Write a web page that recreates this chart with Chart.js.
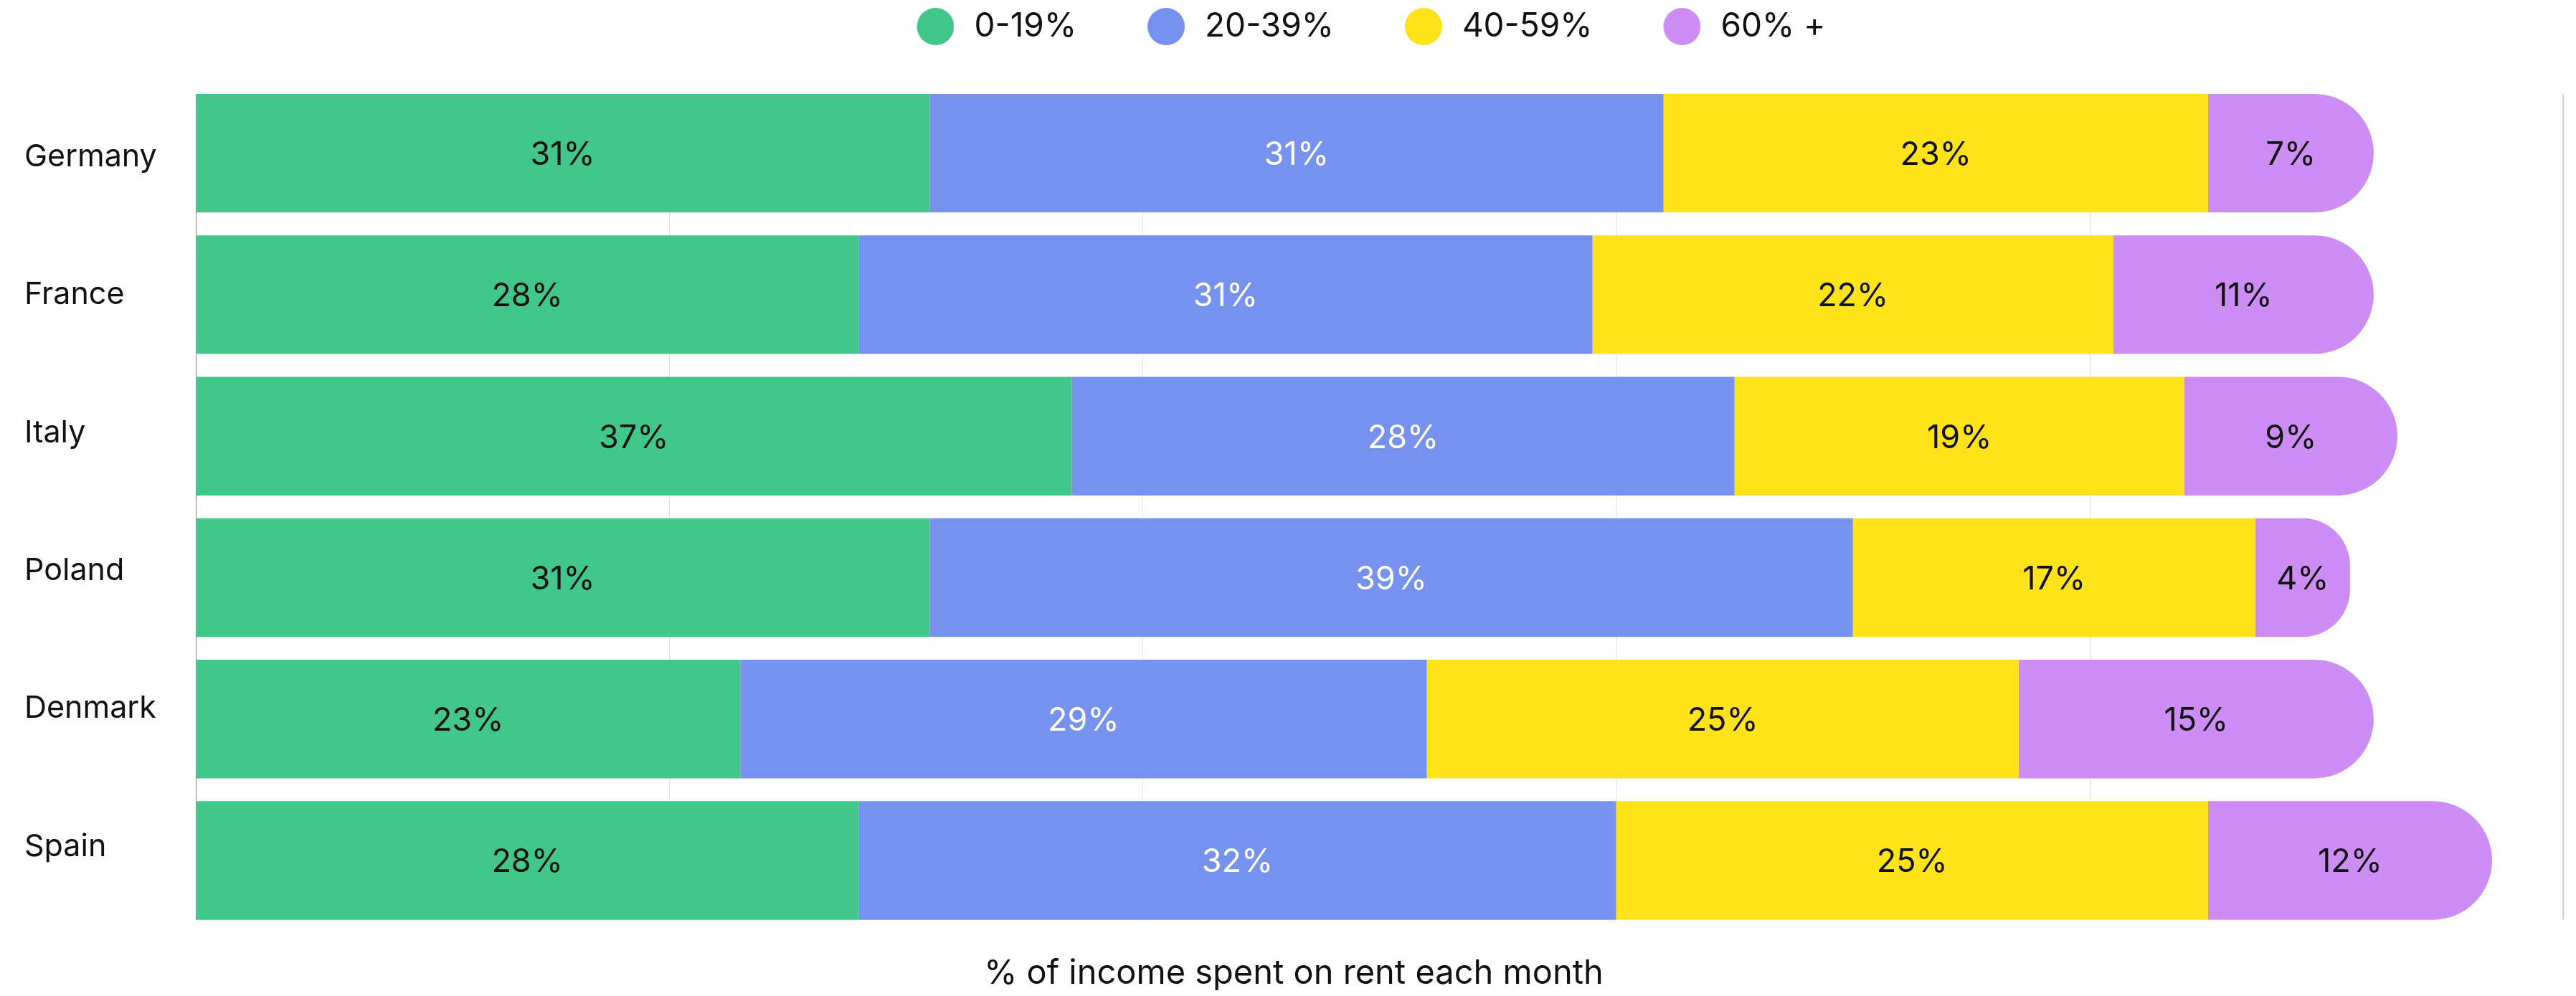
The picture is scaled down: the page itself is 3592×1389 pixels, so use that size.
<!DOCTYPE html>
<html>
<head>
<meta charset="utf-8">
<script src="https://cdn.jsdelivr.net/npm/chart.js@4.4.1/dist/chart.umd.min.js"></script>
<style>
  html, body { margin: 0; padding: 0; background: #ffffff; }
  #wrap { width: 3592px; height: 1389px; position: relative; }
</style>
</head>
<body>
<div id="wrap"><canvas id="chart"></canvas></div>
<script>
// ---- data ----
const countries = ['Germany', 'France', 'Italy', 'Poland', 'Denmark', 'Spain'];
const seriesNames = ['0-19%', '20-39%', '40-59%', '60% +'];
const share0to19 = [31, 28, 37, 31, 23, 28];
const share20to39 = [31, 31, 28, 39, 29, 32];
const share40to59 = [23, 22, 19, 17, 25, 25];
const share60plus = [7, 11, 9, 4, 15, 12];
const xTicks = [0, 20, 40, 60, 80, 100];
const axisTitle = '% of income spent on rent each month';

// ---- styles ----
const FONT = 'Inter';
const colors = ['#41C78A', '#7692EE', '#FEE21A', '#CC8EF4'];
const labelColors = ['#111111', '#ffffff', '#111111', '#111111'];
const seriesValues = [share0to19, share20to39, share40to59, share60plus];

Chart.defaults.font.family = FONT;
Chart.defaults.color = '#111111';

// legend marker: circle drawn inside a wider transparent image
function circleMarker(color) {
  const c = document.createElement('canvas');
  c.width = 132; c.height = 52;
  const g = c.getContext('2d');
  g.fillStyle = color;
  g.beginPath();
  g.arc(106, 26, 26, 0, Math.PI * 2);
  g.fill();
  return c;
}
const markers = colors.map(circleMarker);

const datasets = seriesValues.map((vals, i) => ({
  label: seriesNames[i],
  data: vals,
  backgroundColor: colors[i],
  borderWidth: 0,
  borderRadius: i === seriesValues.length - 1
    ? { topLeft: 0, bottomLeft: 0, topRight: 83, bottomRight: 83 }
    : 0,
  categoryPercentage: 1,
  barPercentage: 0.8387
}));

const gridPlugin = {
  id: 'rowGrid',
  beforeDatasetsDraw(chart) {
    const meta = chart.getDatasetMeta(0);
    if (!meta.data.length) return;
    const first = meta.data[0], last = meta.data[meta.data.length - 1];
    const top = first.y - first.height / 2;
    const bottom = last.y + last.height / 2;
    const xs = chart.scales.x;
    const ctx = chart.ctx;
    ctx.save();
    xTicks.forEach((v, i) => {
      let w = 1, col = '#e3e3e3';
      if (i === 0) { col = '#808080'; }
      if (i === xTicks.length - 1) { w = 2; col = '#cfcfcf'; }
      const px = Math.round(xs.getPixelForValue(v)) + (w === 1 ? 0.5 : 0);
      ctx.strokeStyle = col;
      ctx.lineWidth = w;
      ctx.beginPath();
      ctx.moveTo(px, top);
      ctx.lineTo(px, bottom);
      ctx.stroke();
    });
    ctx.restore();
  }
};

const labelPlugin = {
  id: 'segmentLabels',
  afterDatasetsDraw(chart) {
    const ctx = chart.ctx;
    ctx.save();
    ctx.font = '45px ' + FONT;
    ctx.textAlign = 'center';
    ctx.textBaseline = 'middle';
    chart.data.datasets.forEach((ds, i) => {
      const meta = chart.getDatasetMeta(i);
      meta.data.forEach((el, j) => {
        const cx = (el.x + el.base) / 2;
        ctx.fillStyle = labelColors[i];
        ctx.fillText(ds.data[j] + '%', cx, el.y + 3);
      });
    });
    ctx.restore();
  }
};

const legendShift = {
  id: 'legendShift',
  afterLayout(chart) {
    const lg = chart.legend;
    if (!lg || !lg.lineWidths) return;
    const pad = 14, lead = 85;
    const lw = lg.lineWidths[0];
    const visible = lw - lead - pad;
    const targetStart = 1912 - visible / 2 - lead;
    const dx = targetStart - (lg.left + pad);
    lg.left += dx;
    lg.right += dx;
  }
};

new Chart(document.getElementById('chart'), {
  type: 'bar',
  data: { labels: countries, datasets },
  options: {
    indexAxis: 'y',
    responsive: true,
    maintainAspectRatio: false,
    animation: false,
    layout: { padding: { left: 34, right: 18, top: 0, bottom: 3 } },
    scales: {
      x: {
        type: 'linear',
        position: 'top',
        stacked: true,
        min: 0,
        max: 100,
        afterBuildTicks(s) { s.ticks = xTicks.map(v => ({ value: v })); },
        ticks: { display: false },
        grid: { display: false },
        border: { display: false },
        afterFit(s) { s.height = 45; }
      },
      y: {
        stacked: true,
        display: false
      },
      yLabels: {
        type: 'linear',
        position: 'left',
        reverse: true,
        offset: false,
        bounds: 'data',
        min: -0.5421,
        max: 5.6122,
        afterBuildTicks(s) { s.ticks = countries.map((c, i) => ({ value: i })); },
        grid: { display: false, offset: false },
        border: { display: false },
        ticks: {
          crossAlign: 'far',
          autoSkip: false,
          color: '#111111',
          font: { size: 43, family: FONT },
          callback: (v) => countries[Math.round(v)]
        },
        afterFit(s) { s.width = 239; }
      }
    },
    plugins: {
      tooltip: { enabled: false },
      legend: {
        position: 'top',
        align: 'start',
        labels: {
          usePointStyle: true,
          pointStyleWidth: 142,
          padding: 14,
          color: '#111111',
          font: { size: 46, family: FONT },
          generateLabels(chart) {
            const items = Chart.defaults.plugins.legend.labels.generateLabels(chart);
            items.forEach((it, i) => { it.pointStyle = markers[i]; });
            return items;
          }
        }
      },
      title: {
        display: true,
        position: 'bottom',
        text: axisTitle,
        color: '#111111',
        font: { size: 47, family: FONT, weight: 'normal' },
        padding: { top: 31, bottom: 0 }
      }
    }
  },
  plugins: [gridPlugin, labelPlugin, legendShift]
});
</script>
</body>
</html>
